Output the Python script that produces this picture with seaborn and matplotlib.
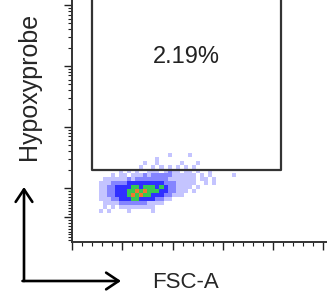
import numpy as np
import matplotlib
matplotlib.use("Agg")
import matplotlib.pyplot as plt
from matplotlib.colors import ListedColormap
import seaborn as sns

# FSC-A bins (4K wide) and Hypoxyprobe bins
fsc_edges = np.arange(27000, 163001, 4000)
hyp_edges = [14, 28, 41, 55, 69, 83, 97, 112, 130, 152, 176, 205, 239, 277, 323, 375]

# event density per bin (0 = empty ... 5 = highest), top row = highest Hypoxyprobe
density_rows = [
    "0000000000" "0000000100" "0010000000" "0000",
    "0000000000" "0000100000" "0000000000" "0000",
    "0000000000" "0100100000" "1000100000" "0000",
    "0000000000" "1001010101" "0101000000" "0000",
    "0000010101" "0011101211" "0110100100" "0000",
    "0001011011" "1212222211" "1111010100" "0001",
    "0111111212" "2222222111" "1111011010" "0000",
    "1112222333" "3333332221" "1111001010" "0000",
    "1122333344" "3444343221" "1110100000" "0000",
    "1122333445" "4544433221" "1101000000" "0000",
    "1122333454" "5443332211" "1000000000" "0000",
    "1112233344" "3333221100" "0000000000" "0000",
    "0111122222" "2211110000" "0000000000" "0000",
    "0101011111" "1111000000" "0000000000" "0000",
    "1010000100" "0001000000" "0000000000" "0000",
]

gate_fsc = [20000, 208000]
gate_hyp = [200, 400000]
gate_label = "2.19%"
label_fsc, label_hyp = 114000, 14000

x_major = [0, 50000, 100000, 150000, 200000, 250000]
x_minor = np.arange(0, 262145, 10000)
y_major = [0, 100, 1000, 10000, 100000]
y_minor = ([-80, -70, -60, -50, -40, -30, -20, -10, 10, 20, 30, 40, 50, 60, 70, 80, 90]
           + [m * 10 ** d for d in range(2, 5) for m in range(2, 10)] + [200000])

sns.set_style("ticks")
plt.rcParams["font.family"] = ["Liberation Sans", "DejaVu Sans"]

fig = plt.figure(figsize=(3.27, 3.0), dpi=100)
ax = fig.add_axes([0.2217, 0.1933, 0.8017, 0.8747])
ax.set_yscale("symlog", linthresh=100, linscale=0.43)

grid = np.array([[int(ch) for ch in row] for row in density_rows[::-1]], dtype=float)
grid = np.ma.masked_equal(grid, 0)
cmap = ListedColormap(["#c4c4ff", "#8484ff", "#3030ff", "#38c850", "#f07830"])
ax.pcolormesh(fsc_edges, hyp_edges, grid, cmap=cmap, vmin=0.5, vmax=5.5,
              shading="flat", zorder=2)

ax.plot([gate_fsc[0], gate_fsc[0], gate_fsc[1], gate_fsc[1]],
        [gate_hyp[1], gate_hyp[0], gate_hyp[0], gate_hyp[1]],
        color="#333333", lw=1.6, zorder=3, clip_on=False)
ax.text(label_fsc, label_hyp, gate_label, ha="center", va="center",
        fontsize=17, color="#222222")

ax.set_xticks(x_major)
ax.set_xticks(x_minor, minor=True)
ax.set_yticks(y_major)
ax.set_yticks(y_minor, minor=True)
ax.set_xticklabels([])
ax.set_yticklabels([])
ax.set_xlim(0, 262144)
ax.set_ylim(-86, 262144)
ax.tick_params(which="major", length=6, width=1, color="#222222")
ax.tick_params(which="minor", length=3, width=0.8, color="#222222")
for side in ["top", "right"]:
    ax.spines[side].set_visible(False)
for side in ["left", "bottom"]:
    ax.spines[side].set_linewidth(1.4)
    ax.spines[side].set_color("#333333")

# axis direction arrows and labels
arrow_props = dict(arrowstyle="->,head_length=0.9,head_width=0.6",
                   lw=1.9, color="black", shrinkA=0, shrinkB=0)
ax.annotate("", xy=(24 / 327, 1 - 187 / 300), xytext=(24 / 327, 1 - 281 / 300),
            xycoords="figure fraction", textcoords="figure fraction",
            arrowprops=arrow_props)
ax.annotate("", xy=(121 / 327, 1 - 281 / 300), xytext=(22.5 / 327, 1 - 281 / 300),
            xycoords="figure fraction", textcoords="figure fraction",
            arrowprops=arrow_props)
fig.text(29 / 327, 1 - 86 / 300, "Hypoxyprobe", rotation=90, ha="center",
         va="center", fontsize=18)
fig.text(152 / 327, 1 - 288 / 300, "FSC-A", ha="left", va="baseline", fontsize=16)

fig.savefig("out.png", dpi=100)
plt.close(fig)
